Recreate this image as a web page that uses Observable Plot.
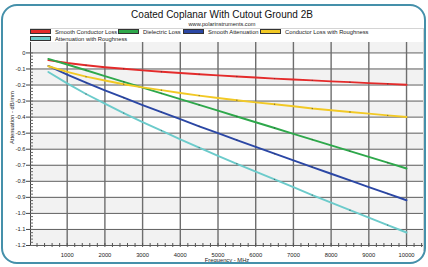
<!DOCTYPE html>
<html><head><meta charset="utf-8">
<script src="https://cdn.jsdelivr.net/npm/d3@7"></script>
<script src="https://cdn.jsdelivr.net/npm/@observablehq/plot@0.6"></script>
<style>
body{margin:0;background:#fff;font-family:"Liberation Sans",Arial,sans-serif;}
#wrap{position:relative;width:428px;height:267px;overflow:hidden;background:#fff;}
#frame{position:absolute;left:1px;top:4px;width:421px;height:256px;border:2.5px solid #4590aa;border-radius:16px;}
#box{position:absolute;left:30px;top:28px;width:393px;height:222px;border-top:1px solid #d4d4d4;border-right:1px solid #d4d4d4;}
#title{position:absolute;left:0;width:444px;top:9px;text-align:center;font-size:10px;color:#111;}
#sub{position:absolute;left:0;width:444px;top:21px;text-align:center;font-size:5.6px;color:#222;}
.leg{position:absolute;font-size:5.8px;color:#222;white-space:nowrap;line-height:7px;}
.sw{display:inline-block;width:19px;height:3px;border:1px solid #333;vertical-align:middle;margin-right:4px;margin-top:-1px;}
#plot{position:absolute;left:0;top:40px;}
</style></head>
<body><div id="wrap">
<div id="box"></div>
<div id="plot"></div>
<div id="frame"></div>
<div id="title">Coated Coplanar With Cutout Ground 2B</div>
<div id="sub">www.polarinstruments.com</div>
<div id="legend"></div>
</div>
<script>
const freq = [500,1000,1500,2000,2500,3000,3500,4000,4500,5000,5500,6000,6500,7000,7500,8000,8500,9000,9500,10000];
const smoothConductor = [-0.045,-0.063,-0.077,-0.089,-0.099,-0.109,-0.117,-0.125,-0.133,-0.140,-0.147,-0.153,-0.160,-0.166,-0.171,-0.177,-0.182,-0.188,-0.193,-0.198];
const dielectric = [-0.037,-0.072,-0.108,-0.144,-0.180,-0.216,-0.252,-0.288,-0.324,-0.360,-0.396,-0.432,-0.468,-0.504,-0.540,-0.576,-0.612,-0.648,-0.684,-0.720];
const smoothAtten = [-0.081,-0.135,-0.185,-0.233,-0.279,-0.325,-0.369,-0.413,-0.457,-0.500,-0.543,-0.585,-0.628,-0.670,-0.711,-0.753,-0.794,-0.836,-0.877,-0.918];
const condRough = [-0.083,-0.118,-0.148,-0.172,-0.195,-0.215,-0.232,-0.250,-0.266,-0.281,-0.295,-0.308,-0.320,-0.332,-0.346,-0.357,-0.368,-0.378,-0.389,-0.399];
const attenRough = [-0.119,-0.190,-0.256,-0.316,-0.375,-0.431,-0.484,-0.538,-0.590,-0.641,-0.691,-0.740,-0.788,-0.836,-0.886,-0.933,-0.980,-1.026,-1.073,-1.119];
const seriesNames = ["Smooth Conductor Loss","Dielectric Loss","Smooth Attenuation","Conductor Loss with Roughness","Attenuation with Roughness"];
const seriesColors = ["#e42b2b","#2ea84b","#2b47a5","#f2c925","#6ccbcb"];
const xTicks = [1000,2000,3000,4000,5000,6000,7000,8000,9000,10000];
const yTicks = [0,-0.1,-0.2,-0.3,-0.4,-0.5,-0.6,-0.7,-0.8,-0.9,-1.0,-1.1,-1.2];

const allSeries = [smoothConductor, dielectric, smoothAtten, condRough, attenRough];
const rows = [];
allSeries.forEach((s, i) => s.forEach((v, j) => rows.push({f: freq[j], v, s: seriesNames[i]})));
const markerRows = rows.filter(d => d.f % 1000 === 500 && d.f > 500);

const xDom = [27, 10450], yDom = [-1.2, 0.065];
const bands = [{a: yDom[1], b: 0}];
for (let k = 1; k + 1 < yTicks.length; k += 2) bands.push({a: yTicks[k], b: yTicks[k + 1]});
const minorY = d3.range(0, 61).map(i => -i * 0.02).filter(v => v >= -1.2001);
const minorX = d3.range(200, 10450, 200);

const plot = Plot.plot({
  width: 428, height: 227,
  marginLeft: 30, marginRight: 5, marginTop: 2, marginBottom: 22,
  style: {fontFamily: '"Liberation Sans", Arial, sans-serif', fontSize: "5.8px", color: "#222", background: "transparent"},
  x: {domain: xDom, label: null},
  y: {domain: yDom, label: null},
  marks: [
    Plot.rectY(bands, {x1: xDom[0], x2: xDom[1], y1: "a", y2: "b", fill: "#f2f2f2"}),
    Plot.ruleY(yTicks, {stroke: "#5e5e5e", strokeWidth: 1}),
    Plot.ruleX(xTicks, {stroke: "#6e6e6e", strokeWidth: 1.4, y1: yDom[0], y2: yDom[1]}),
    Plot.ruleX([xDom[0]], {stroke: "#444", strokeWidth: 1}),
    Plot.axisY({ticks: yTicks, tickSize: 4, tickFormat: v => v === 0 ? "0" : v.toFixed(1), label: null, stroke: "#444", tickPadding: 1}),
    Plot.axisY({ticks: minorY, tickSize: 3, dx: 3, tickFormat: () => "", label: null, stroke: "#666"}),
    Plot.axisX({ticks: xTicks, tickSize: 0, tickPadding: 7, tickFormat: d => String(d), label: null}),
    Plot.axisX({ticks: minorX, tickSize: 4, dy: -2, tickFormat: () => "", label: null, stroke: "#555"}),
    Plot.line(rows, {x: "f", y: "v", z: "s", stroke: d => seriesColors[seriesNames.indexOf(d.s)], strokeWidth: 1.9}),
    Plot.dot(markerRows, {x: "f", y: "v", r: 0.7, fill: "#333", fillOpacity: 0.6}),
    Plot.text(["Frequency - MHz"], {frameAnchor: "bottom", dy: 16, fontSize: 5.8}),
    Plot.text(["Attenuation - dB/mm"], {frameAnchor: "left", rotate: -90, dx: -18, fontSize: 5.8})
  ]
});
document.getElementById("plot").appendChild(plot);

const legPos = [[30, 32], [118, 32], [183, 32], [260, 32], [30, 39]];
const leg = document.getElementById("legend");
seriesNames.forEach((n, i) => {
  const d = document.createElement("div");
  d.className = "leg";
  d.style.left = legPos[i][0] + "px";
  d.style.top = (legPos[i][1] - 3.5) + "px";
  d.innerHTML = `<span class="sw" style="background:${seriesColors[i]}"></span>${n}`;
  leg.appendChild(d);
});
</script>
</body></html>
